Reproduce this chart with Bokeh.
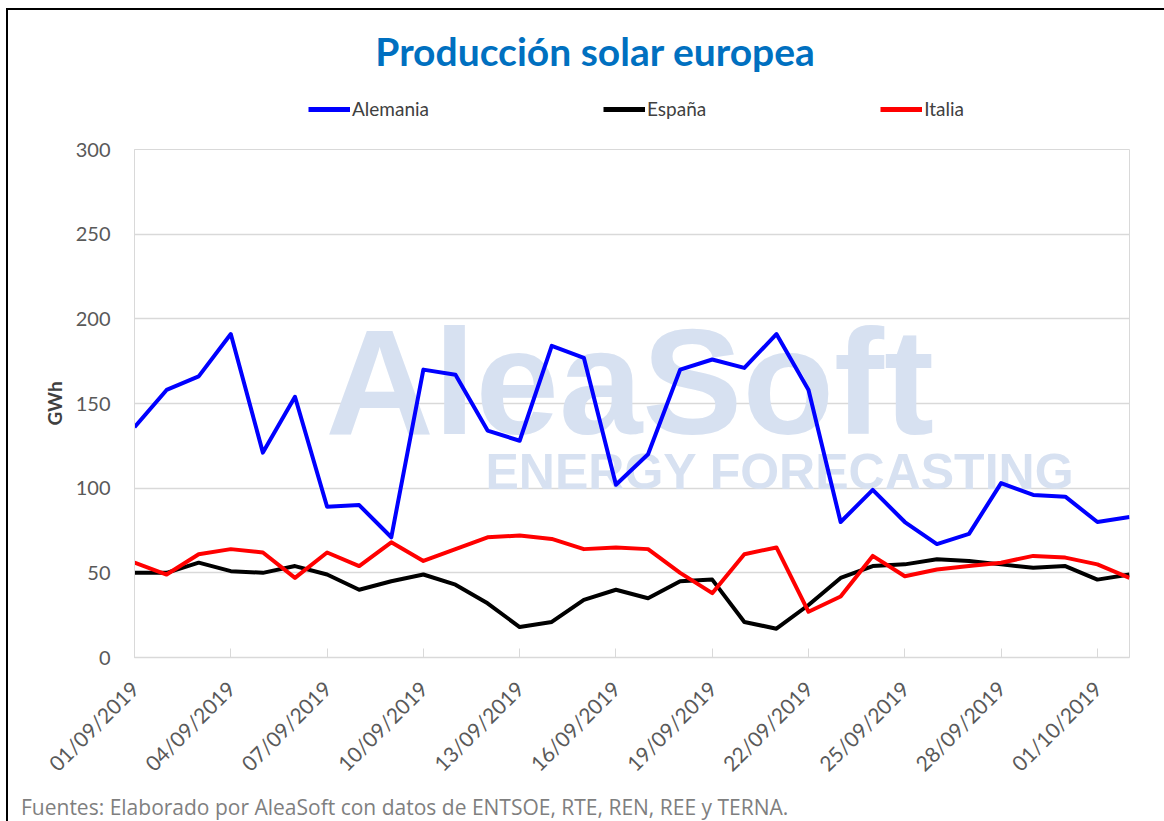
import math
from datetime import datetime, timedelta
from bokeh.plotting import figure
from bokeh.layouts import column
from bokeh.models import (Legend, LegendItem, Label, FixedTicker, DatetimeTickFormatter,
                          Range1d, Div)
from bokeh.embed import file_html
from bokeh.resources import INLINE

# ---- data ----
start = datetime(2019, 9, 1)
dates = [start + timedelta(days=i) for i in range(32)]
alemania = [136, 158, 166, 191, 121, 154, 89, 90, 71, 170, 167, 134, 128, 184, 177, 102,
            120, 170, 176, 171, 191, 158, 80, 99, 80, 67, 73, 103, 96, 95, 80, 83]
espana = [50, 50, 56, 51, 50, 54, 49, 40, 45, 49, 43, 32, 18, 21, 34, 40,
          35, 45, 46, 21, 17, 31, 47, 54, 55, 58, 57, 55, 53, 54, 46, 49]
italia = [56, 49, 61, 64, 62, 47, 62, 54, 68, 57, 64, 71, 72, 70, 64, 65,
          64, 50, 38, 61, 65, 27, 36, 60, 48, 52, 54, 56, 60, 59, 55, 47]
series_names = ["Alemania", "España", "Italia"]
series_colors = ["#0000FF", "#000000", "#FF0000"]
y_ticks = [0, 50, 100, 150, 200, 250, 300]
title_text = "Producción solar europea"
y_label = "GWh"
footnote = "Fuentes: Elaborado por AleaSoft con datos de ENTSOE, RTE, REN, REE y TERNA."

W = 1155
LW = 4
nan = float("nan")

# ---------- header figure: title + legend ----------
top = figure(width=W, height=120, output_backend="svg", toolbar_location=None,
             x_range=Range1d(0, 1), y_range=Range1d(0, 1),
             x_axis_location=None, y_axis_location=None, title_location=None,
             min_border=0)
top.outline_line_color = None
top.grid.grid_line_color = None
top.background_fill_color = "white"
top.border_fill_color = "white"
# legend proxies (no visible data)
proxies = [top.line([nan], [nan], line_color=c, line_width=5) for c in series_colors]
top.add_layout(Label(x=461, y=80, x_units="screen", y_units="screen", text=title_text,
                     text_font="Lato", text_font_style="bold", text_font_size="39px",
                     text_color="#0070C0", text_align="center", text_baseline="middle"))
legend = Legend(items=[LegendItem(label=n, renderers=[r]) for n, r in zip(series_names, proxies)],
                orientation="horizontal", location=(174, 10), spacing=174,
                glyph_width=42, glyph_height=20, label_standoff=2, padding=0, margin=0,
                label_text_font="Lato", label_text_font_size="19px", label_text_color="#404040",
                border_line_alpha=0, background_fill_alpha=0)
top.add_layout(legend, "center")

# ---------- main chart ----------
p = figure(width=W, height=660, output_backend="svg", toolbar_location=None,
           x_axis_type="datetime", title_location=None,
           x_range=Range1d(dates[0], dates[-1]), y_range=Range1d(0, 300),
           min_border_left=126, min_border_right=34, min_border_top=19, min_border_bottom=133)
p.outline_line_color = "#d9d9d9"
p.outline_line_width = 1
p.background_fill_color = "white"
p.border_fill_color = "white"

# watermark
wm = "#d7e1f1"
p.add_layout(Label(x=191, y=276, x_units="screen", y_units="screen", text="AleaSoft",
                   text_font="Liberation Sans", text_font_style="bold",
                   text_font_size="150px", text_color=wm, text_baseline="alphabetic",
                   level="underlay"))
p.add_layout(Label(x=351, y=186, x_units="screen", y_units="screen", text="ENERGY FORECASTING",
                   text_font="Liberation Sans", text_font_style="bold",
                   text_font_size="50px", text_color=wm, text_baseline="alphabetic",
                   level="underlay"))

for vals, col in zip([alemania, espana, italia], series_colors):
    p.line(dates, vals, line_color=col, line_width=LW, line_join="round")

xa = p.xaxis[0]
xa.ticker = FixedTicker(ticks=[d.timestamp() * 1000 for d in dates[::3]])
fmt = "%d/%m/%Y"
xa.formatter = DatetimeTickFormatter(days=fmt, months=fmt, hours=fmt, years=fmt)
xa.major_label_orientation = math.pi / 4
xa.major_label_text_font = "Lato"
xa.major_label_text_font_size = "21px"
xa.major_label_text_color = "#595959"
xa.major_label_standoff = 27
xa.axis_line_color = "#d9d9d9"
xa.axis_line_width = 1.5
xa.major_tick_line_color = "#d9d9d9"
xa.major_tick_in = 9
xa.major_tick_out = 0
xa.minor_tick_line_color = None

ya = p.yaxis[0]
ya.ticker = FixedTicker(ticks=y_ticks)
ya.major_label_text_font = "Lato"
ya.major_label_text_font_size = "20px"
ya.major_label_text_color = "#595959"
ya.major_label_standoff = 18
ya.axis_line_color = "#d9d9d9"
ya.major_tick_line_color = None
ya.minor_tick_line_color = None
ya.axis_label = y_label
ya.axis_label_text_font = "Lato"
ya.axis_label_text_font_style = "bold"
ya.axis_label_text_font_size = "19px"
ya.axis_label_text_color = "#404040"
ya.axis_label_standoff = 7

p.xgrid.grid_line_color = None
p.ygrid.grid_line_color = "#d9d9d9"
p.ygrid.grid_line_width = 1.5
p.ygrid.ticker = FixedTicker(ticks=y_ticks)

# ---------- footnote ----------
note = Div(text=footnote, width=W, height=26,
           styles={"font-family": "'Open Sans'", "font-size": "21px", "color": "#7f7f7f",
                   "line-height": "24px", "padding-left": "8px", "white-space": "nowrap"})

layout = column(top, p, note, spacing=0,
                styles={"margin-left": "6px", "margin-top": "8px",
                        "border-top": "2px solid black", "border-left": "2px solid black"})

open("out.html", "w").write(file_html(layout, INLINE))
